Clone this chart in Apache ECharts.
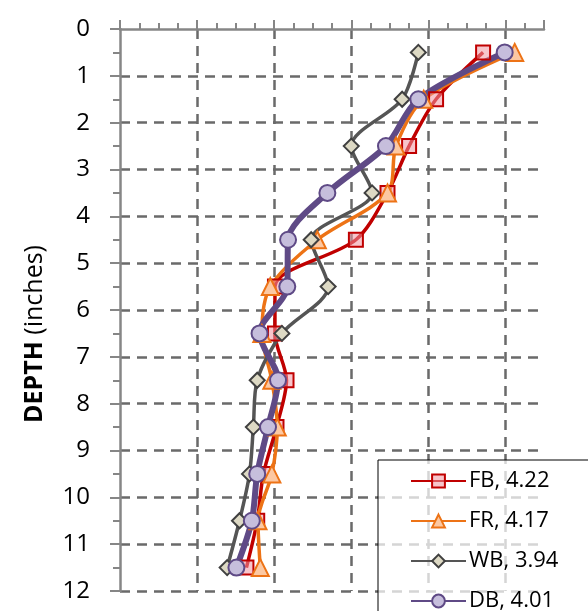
<!DOCTYPE html>
<html>
<head>
<meta charset="utf-8">
<script src="https://cdn.jsdelivr.net/npm/echarts@6/dist/echarts.min.js"></script>
<style>
  html, body { margin: 0; padding: 0; background: #fff; }
  #chart { width: 588px; height: 611px; }
</style>
</head>
<body>
<div id="chart"></div>
<script>
var depths = [0.5, 1.5, 2.5, 3.5, 4.5, 5.5, 6.5, 7.5, 8.5, 9.5, 10.5, 11.5];
var fbVals = [4.71, 4.10, 3.75, 3.47, 3.06, 2.01, 2.01, 2.16, 2.03, 1.86, 1.78, 1.64];
var frVals = [5.12, 3.94, 3.58, 3.47, 2.56, 1.95, 1.84, 1.97, 2.04, 1.97, 1.79, 1.82];
var wbVals = [3.87, 3.66, 3.00, 3.27, 2.48, 2.70, 2.10, 1.78, 1.73, 1.68, 1.55, 1.39];
var dbVals = [4.99, 3.87, 3.45, 2.69, 2.18, 2.17, 1.81, 2.05, 1.92, 1.78, 1.71, 1.51];
var seriesNames = ['FB, 4.22', 'FR, 4.17', 'WB, 3.94', 'DB, 4.01'];

function pairs(vals) {
  return vals.map(function (v, i) { return [v, depths[i]]; });
}

var myChart = echarts.init(document.getElementById('chart'));

var gridDash = { color: '#6a6a6a', width: 2.5, type: [10, 7] };

var option = {
  animation: false,
  textStyle: { fontFamily: 'Open Sans' },
  grid: { left: 120, top: 29, right: 44, bottom: 20 },
  legend: {
    orient: 'vertical',
    left: 378,
    top: 460,
    height: 150,
    padding: [10, 60, 40, 32],
    itemWidth: 55,
    itemHeight: 16,
    itemGap: 18,
    borderColor: '#000',
    borderWidth: 1,
    backgroundColor: 'rgba(255,255,255,0.72)',
    textStyle: { fontSize: 22, color: '#000', padding: [0, 0, 0, -2] },
    data: seriesNames
  },
  xAxis: {
    type: 'value',
    position: 'top',
    min: 0,
    max: 5.5,
    interval: 1,
    axisLine: { show: true, lineStyle: { color: '#868686', width: 2.5 } },
    axisTick: { show: true, length: 9, lineStyle: { color: '#868686', width: 2 } },
    minorTick: { show: true, splitNumber: 4, length: 6, lineStyle: { color: '#868686', width: 2 } },
    axisLabel: { show: false },
    splitLine: {
      show: true,
      showMinLine: false,
      showMaxLine: false,
      lineStyle: gridDash
    }
  },
  yAxis: {
    type: 'value',
    inverse: true,
    min: 0,
    max: 12,
    interval: 1,
    axisLine: { show: true, lineStyle: { color: '#868686', width: 2.5 } },
    axisTick: { show: true, length: 10, lineStyle: { color: '#868686', width: 2 } },
    minorTick: { show: true, splitNumber: 2, length: 7, lineStyle: { color: '#868686', width: 2 } },
    axisLabel: { fontSize: 24, color: '#000', margin: 30 },
    splitLine: {
      show: true,
      showMinLine: false,
      lineStyle: gridDash
    }
  },
  graphic: [{
    type: 'text',
    x: 35,
    y: 334,
    rotation: Math.PI / 2,
    style: {
      text: '{b|DEPTH} (inches)',
      align: 'center',
      verticalAlign: 'middle',
      fontFamily: 'Open Sans',
      fontSize: 25,
      fill: '#000',
      rich: {
        b: { fontWeight: 'bold', fontSize: 25, fontFamily: 'Open Sans', fill: '#000' }
      }
    }
  }],
  series: [
    {
      name: seriesNames[0],
      type: 'line',
      smooth: 0.3,
      data: pairs(fbVals),
      symbol: 'rect',
      symbolSize: 14,
      lineStyle: { color: '#c00000', width: 3.5 },
      itemStyle: { color: 'rgba(240,150,160,0.55)', borderColor: '#c00000', borderWidth: 2 }
    },
    {
      name: seriesNames[1],
      type: 'line',
      smooth: 0.3,
      data: pairs(frVals),
      symbol: 'triangle',
      symbolSize: 17,
      lineStyle: { color: '#ed7316', width: 3.5 },
      itemStyle: { color: '#fcc8a2', borderColor: '#ed7316', borderWidth: 2 }
    },
    {
      name: seriesNames[2],
      type: 'line',
      smooth: 0.3,
      data: pairs(wbVals),
      symbol: 'diamond',
      symbolSize: 15,
      lineStyle: { color: '#555555', width: 3.5 },
      itemStyle: { color: '#ddd9c4', borderColor: '#404040', borderWidth: 2 }
    },
    {
      name: seriesNames[3],
      type: 'line',
      smooth: 0.3,
      data: pairs(dbVals),
      symbol: 'circle',
      symbolSize: 16,
      lineStyle: { color: '#5f4a86', width: 6 },
      itemStyle: { color: '#c6bedc', borderColor: '#5f4a86', borderWidth: 2 }
    }
  ]
};

myChart.setOption(option);
</script>
</body>
</html>
